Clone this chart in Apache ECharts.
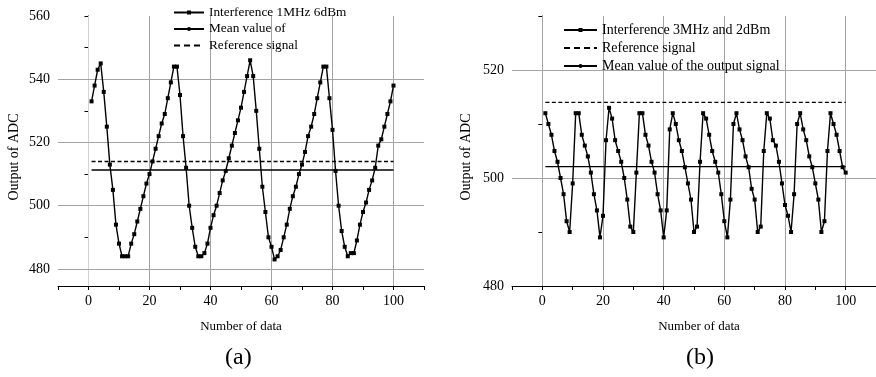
<!DOCTYPE html>
<html>
<head>
<meta charset="utf-8">
<script src="https://cdn.jsdelivr.net/npm/echarts@6/dist/echarts.min.js"></script>
<style>
  html, body { margin: 0; background: #fff; }
  #chart { width: 876px; height: 377px; }
</style>
</head>
<body>
<div id="chart"></div>
<script>
// (a) interference 1MHz 6dBm, samples 1..100
const adcA = [
  533, 538, 543, 545, 536, 525, 513, 505, 494, 488,
  484, 484, 484, 488, 491, 495, 499, 503, 507, 510,
  514, 518, 522, 526, 529, 534, 539, 544, 544, 535,
  522, 512, 500, 493, 487, 484, 484, 485, 488, 493,
  497, 500, 504, 508, 511, 515, 519, 523, 527, 531,
  536, 541, 546, 541, 530, 518, 506, 498, 490, 487,
  483, 484, 486, 490, 494, 499, 503, 506, 510, 513,
  517, 522, 525, 529, 534, 539, 544, 544, 534, 524,
  511, 500, 492, 487, 484, 485, 485, 489, 494, 498,
  501, 505, 508, 512, 519, 521, 525, 529, 533, 538
];
// (b) interference 3MHz and 2dBm, samples 1..100
const adcB = [
  512, 510, 508, 505, 503, 500, 497, 492, 490, 499,
  512, 512, 508, 506, 504, 501, 497, 494, 489, 493,
  507, 513, 511, 507, 505, 503, 500, 496, 491, 490,
  501, 512, 512, 508, 506, 503, 501, 497, 494, 489,
  494, 509, 512, 510, 507, 505, 502, 499, 496, 490,
  491, 503, 512, 511, 508, 505, 503, 501, 497, 492,
  489, 496, 510, 512, 509, 507, 504, 502, 498, 496,
  490, 491, 505, 512, 511, 507, 506, 503, 499, 495,
  493, 490, 497, 510, 512, 509, 507, 504, 502, 499,
  496, 490, 492, 505, 512, 510, 508, 505, 502, 501
];
const meanA = 511.3;
const refA = 514;
const meanB = 502.1;
const refB = 514;
const lineSpan = [1, 100];

const xLabels = [0, 20, 40, 60, 80, 100];
const xGrid = [0, 20, 40, 60, 80, 100];
const yTicksA = [480, 490, 500, 510, 520, 530, 540, 550, 560];
const yLabelsA = [480, 500, 520, 540, 560];
const yGridA = [480, 500, 520, 540];
const yLabelsB = [480, 500, 520];
const yGridB = [500, 520];

const font = "Liberation Serif";
const black = "#000";
const gridGrey = "#a3a3a3";

const toPairs = (vals) => vals.map((v, i) => [i + 1, v]);
const flat = (v) => lineSpan.map((x) => [x, v]);

function xAxisFor(gridIndex, nameShift) {
  return {
    type: "value", gridIndex, min: -10, max: 110, interval: 10,
    name: "Number of data", nameLocation: "middle", nameGap: 34,
    nameTextStyle: { fontFamily: font, fontSize: 13, color: black, padding: [0, 0, 0, nameShift] },
    axisLine: { lineStyle: { color: black, width: 1 } },
    axisTick: { length: 4, lineStyle: { color: black } },
    axisLabel: { customValues: xLabels, fontFamily: font, fontSize: 14, color: black, margin: 8 },
    splitLine: { show: false }
  };
}

function yAxisFor(gridIndex, extra, gap) {
  return Object.assign({
    type: "value", gridIndex,
    name: "Output of ADC", nameLocation: "middle", nameGap: gap,
    nameTextStyle: { fontFamily: font, fontSize: 14, color: black, padding: [0, 12, 0, 0] },
    axisLine: { show: true, lineStyle: { color: black, width: 1 } },
    axisTick: { show: true, length: 4, lineStyle: { color: black } },
    splitLine: { show: false }
  }, extra);
}

// grey grid lines drawn through the axes' own scales
function gridLines(xAxisIndex, yVals) {
  return {
    type: "line", xAxisIndex, yAxisIndex: xAxisIndex, data: [], silent: true,
    markLine: {
      silent: true, symbol: "none", z: 1, animation: false,
      label: { show: false },
      lineStyle: { color: gridGrey, width: 1, type: "solid" },
      data: xGrid.map((v) => v === 0 && xAxisIndex === 0
        ? { xAxis: v, lineStyle: { color: "#d2d2d2", type: "solid" } }
        : { xAxis: v })
        .concat(yVals.map((v) => ({ yAxis: v })))
    }
  };
}

function signal(name, idx, vals) {
  return {
    name, type: "line", xAxisIndex: idx, yAxisIndex: idx, z: 3,
    data: toPairs(vals), symbol: "rect", symbolSize: 4,
    itemStyle: { color: black }, lineStyle: { color: black, width: 1.4 }
  };
}
function mean(name, idx, v) {
  return {
    name, type: "line", xAxisIndex: idx, yAxisIndex: idx, z: 3,
    data: flat(v), symbol: "circle", symbolSize: 2, showSymbol: false,
    itemStyle: { color: black }, lineStyle: { color: black, width: 1.4 }
  };
}
function reference(idx, v) {
  return {
    name: "Reference signal", type: "line", xAxisIndex: idx, yAxisIndex: idx, z: 3,
    data: flat(v), symbol: "none", showSymbol: false,
    itemStyle: { color: black }, lineStyle: { color: black, width: 1.4, type: [4, 2.5] }
  };
}

const refItem = { name: "Reference signal", itemStyle: { opacity: 0 }, lineStyle: { type: [6, 4] } };

const chart = echarts.init(document.getElementById("chart"), null, { renderer: "canvas" });
chart.setOption({
  animation: false,
  backgroundColor: "#fff",
  title: [
    { text: "(a)", left: 225, top: 346, padding: 0, textStyle: { fontFamily: font, fontSize: 24, fontWeight: "normal", color: black } },
    { text: "(b)", left: 686, top: 346, padding: 0, textStyle: { fontFamily: font, fontSize: 24, fontWeight: "normal", color: black } }
  ],
  legend: [
    {
      orient: "vertical", left: 173, top: 6, itemWidth: 30, itemHeight: 5, itemGap: 3.5, padding: 0,
      selectedMode: false, textStyle: { fontFamily: font, fontSize: 13.3, color: black },
      data: ["Interference 1MHz 6dBm", "Mean value of", refItem]
    },
    {
      orient: "vertical", left: 563, top: 23, itemWidth: 33, itemHeight: 5, itemGap: 4, padding: 0,
      selectedMode: false, textStyle: { fontFamily: font, fontSize: 14, color: black },
      data: ["Interference 3MHz and 2dBm", refItem, "Mean value of the output signal"]
    }
  ],
  grid: [
    { left: 58, top: 16, width: 366, height: 270 },
    { left: 512, top: 16, width: 366, height: 270 }
  ],
  xAxis: [xAxisFor(0, 0), xAxisFor(1, 10)],
  yAxis: [
    yAxisFor(0, {
      min: 474.6, max: 560,
      axisTick: { show: true, length: 4, customValues: yTicksA, lineStyle: { color: black } },
      axisLabel: { customValues: yLabelsA, fontFamily: font, fontSize: 14, color: black, margin: 8 }
    }, 37),
    yAxisFor(1, {
      min: 480, max: 530, interval: 10,
      axisLabel: { customValues: yLabelsB, fontFamily: font, fontSize: 14, color: black, margin: 8 }
    }, 39)
  ],
  series: [
    gridLines(0, yGridA),
    gridLines(1, yGridB),
    signal("Interference 1MHz 6dBm", 0, adcA),
    mean("Mean value of", 0, meanA),
    reference(0, refA),
    signal("Interference 3MHz and 2dBm", 1, adcB),
    reference(1, refB),
    mean("Mean value of the output signal", 1, meanB)
  ]
});
</script>
</body>
</html>
